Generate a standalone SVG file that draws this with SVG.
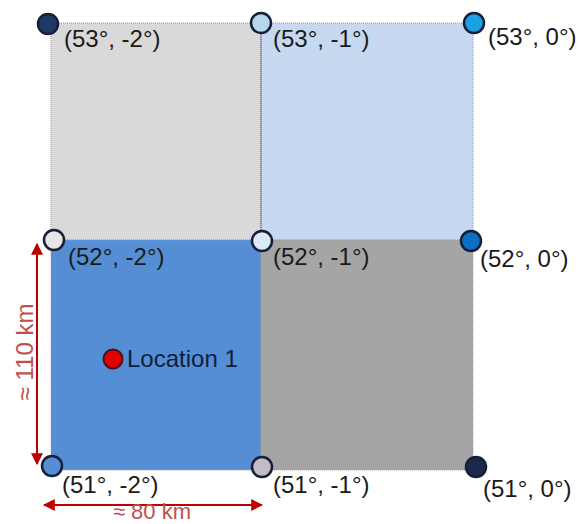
<svg xmlns="http://www.w3.org/2000/svg" width="579" height="524" viewBox="0 0 579 524">
<defs>
<style>
.cell{stroke:#9a9a9a;stroke-width:1;stroke-dasharray:1 1}
.pt{stroke:#14203a;stroke-width:2.5}
.lbl{font-family:"Liberation Sans",Arial,sans-serif;font-size:24px;fill:#1a1a1a}
.dim{font-family:"Liberation Sans",Arial,sans-serif;font-size:24px;fill:#c0504d}
.arr{stroke:#c00000;stroke-width:2;fill:none}
</style>
<marker id="ah" viewBox="0 0 10 10" refX="9" refY="5" markerWidth="6" markerHeight="6" orient="auto-start-reverse">
<path d="M0,0 L10,5 L0,10 Z" fill="#c00000"/>
</marker>
</defs>
<rect width="579" height="524" fill="#ffffff"/>
<g id="cells">
<rect id="cell-nw" class="cell" x="51" y="23" width="210" height="217" fill="#d9d9d9"/>
<rect id="cell-ne" class="cell" x="261" y="23" width="212" height="217" fill="#c6d9f0"/>
<rect id="cell-sw" class="cell" x="51" y="240" width="210" height="230" fill="#558ed5"/>
<rect id="cell-se" class="cell" x="261" y="240" width="212" height="230" fill="#a5a5a5"/>
<line x1="261" y1="23" x2="261" y2="240" stroke="#555" stroke-width="1" stroke-dasharray="1 1"/>
</g>
<g id="connectors">
<line class="arr" x1="37" y1="244" x2="37" y2="464" marker-start="url(#ah)" marker-end="url(#ah)"/>
<line class="arr" x1="44" y1="505" x2="262" y2="505" marker-start="url(#ah)" marker-end="url(#ah)"/>
</g>
<g id="p-53-m2"><circle class="pt" cx="48" cy="24" r="10" fill="#1f3864"/><text class="lbl" x="64" y="47">(53°, -2°)</text></g>
<g id="p-53-m1"><circle class="pt" cx="261" cy="23" r="10" fill="#b7d7ea"/><text class="lbl" x="273" y="47">(53°, -1°)</text></g>
<g id="p-53-0"><circle class="pt" cx="474" cy="23" r="10" fill="#1ba1e2"/><text class="lbl" x="488" y="45">(53°, 0°)</text></g>
<g id="p-52-m2"><circle class="pt" cx="54" cy="240" r="10" fill="#e6e6e6"/><text class="lbl" x="68" y="265">(52°, -2°)</text></g>
<g id="p-52-m1"><circle class="pt" cx="262" cy="241" r="10" fill="#dce8f4"/><text class="lbl" x="273" y="265">(52°, -1°)</text></g>
<g id="p-52-0"><circle class="pt" cx="471" cy="241" r="10" fill="#0e6fc4"/><text class="lbl" x="480" y="267">(52°, 0°)</text></g>
<g id="p-51-m2"><circle class="pt" cx="52" cy="466" r="10" fill="#558ed5"/><text class="lbl" x="62" y="493">(51°, -2°)</text></g>
<g id="p-51-m1"><circle class="pt" cx="262" cy="467" r="10" fill="#c4bcc4"/><text class="lbl" x="273" y="493">(51°, -1°)</text></g>
<g id="p-51-0"><circle class="pt" cx="476" cy="467" r="10" fill="#1a2a48"/><text class="lbl" x="483" y="497">(51°, 0°)</text></g>
<g id="location-1"><circle cx="113" cy="359" r="9.5" fill="#e00000" stroke="#4a1020" stroke-width="2"/><text class="lbl" x="127" y="367" style="fill:#0f1e3c">Location 1</text></g>
<g id="dim-labels">
<text class="dim" x="0" y="0" text-anchor="middle" transform="translate(33,352) rotate(-90)">≈ 110 km</text>
<text class="dim" x="152" y="519" text-anchor="middle" font-size="22" style="font-size:22px">≈ 80 km</text>
</g>
</svg>
